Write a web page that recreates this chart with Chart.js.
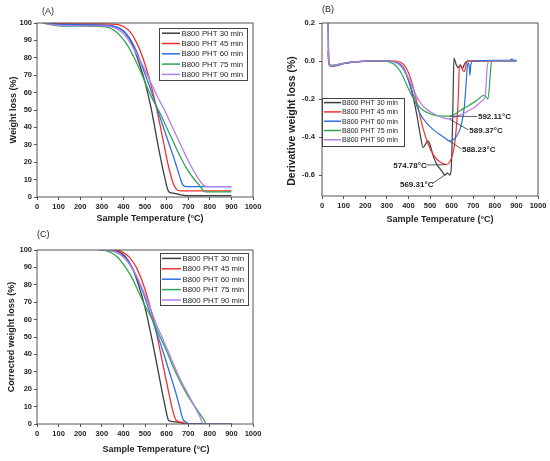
<!DOCTYPE html>
<html>
<head>
<meta charset="utf-8">
<title>B800 PHT TGA curves</title>
<script src="https://cdn.jsdelivr.net/npm/chart.js@4.4.1/dist/chart.umd.min.js"></script>
<style>
  body { margin: 0; background: #fff; }
  #wrap { position: relative; width: 550px; height: 461px; }
  canvas { position: absolute; }
</style>
</head>
<body>
<div id="wrap">
  <canvas id="chartA" width="275" height="230" style="left:0;top:0;width:275px;height:230px"></canvas>
  <canvas id="chartB" width="275" height="230" style="left:275px;top:0;width:275px;height:230px"></canvas>
  <canvas id="chartC" width="275" height="231" style="left:0;top:230px;width:275px;height:231px"></canvas>
</div>
<script>
const seriesNames = ['B800 PHT 30 min', 'B800 PHT 45 min', 'B800 PHT 60 min', 'B800 PHT 75 min', 'B800 PHT 90 min'];
const tempTicks = [0, 100, 200, 300, 400, 500, 600, 700, 800, 900, 1000];
const weightTicks = [0, 10, 20, 30, 40, 50, 60, 70, 80, 90, 100];
const derivTicks = [-0.6, -0.4, -0.2, 0.0, 0.2];

// (A) weight loss, [temperature, %]
const weight30 = [[30,100],[60,99.6],[100,99.2],[200,98.9],[300,98.7],[350,98.2],[380,97],[410,94],[440,88],[470,78],[500,66],[530,50],[560,30],[590,12],[610,3],[630,2.2],[660,1.4],[690,0.8],[900,0.8]];
const weight45 = [[30,100],[100,99.6],[300,99.5],[370,99.2],[400,98],[430,95],[460,89],[490,80],[520,68],[550,53],[580,35],[610,17],[630,8],[645,4.5],[665,3.5],[900,3.5]];
const weight60 = [[30,100],[100,99.2],[300,98.8],[360,98],[400,95.5],[430,91],[460,84],[490,74],[520,64],[550,53],[580,42],[610,31],[640,20],[660,12],[675,7],[690,6],[900,6]];
const weight75 = [[30,100],[100,98.4],[300,98],[330,97.5],[360,95.5],[390,92],[420,87],[450,80],[480,72],[510,63],[540,55],[570,48],[600,40],[630,32],[660,24],[690,17],[720,11.5],[750,7],[780,3],[900,3]];
const weight90 = [[30,100],[100,98.6],[300,98.3],[350,97.7],[380,96],[410,92.5],[440,87],[470,80],[500,73],[530,65],[560,57],[590,50],[620,42],[650,34],[680,26],[710,18.5],[740,12],[765,7.5],[785,6],[900,6]];

// (B) derivative weight loss, [temperature, %/°C]
const deriv30 = [[28,0.05],[31,-0.01],[40,-0.027],[60,-0.026],[80,-0.02],[100,-0.014],[130,-0.008],[170,-0.004],[220,-0.001],[300,0],[330,-0.003],[360,-0.015],[380,-0.04],[400,-0.1],[420,-0.18],[440,-0.29],[455,-0.39],[468,-0.455],[478,-0.44],[490,-0.42],[500,-0.44],[515,-0.5],[530,-0.54],[545,-0.565],[558,-0.585],[569,-0.6],[580,-0.59],[592,-0.6],[598,-0.57],[603,-0.4],[607,-0.18],[611,0.015],[616,0],[622,-0.02],[630,-0.035],[640,-0.02],[650,-0.04],[660,-0.015],[672,0],[900,0]];
const deriv45 = [[30,0.08],[33,-0.01],[40,-0.026],[60,-0.025],[80,-0.02],[100,-0.013],[130,-0.007],[170,-0.003],[220,0],[340,0],[360,-0.005],[380,-0.02],[400,-0.06],[420,-0.13],[440,-0.22],[460,-0.32],[480,-0.4],[500,-0.46],[520,-0.5],[545,-0.53],[575,-0.545],[592,-0.53],[605,-0.49],[615,-0.43],[622,-0.35],[630,-0.22],[636,-0.03],[645,-0.025],[652,-0.05],[660,-0.055],[667,-0.02],[675,0],[900,0]];
const deriv60 = [[28,0.2],[31,-0.01],[40,-0.025],[60,-0.024],[80,-0.019],[100,-0.013],[130,-0.007],[170,-0.003],[220,0],[310,0],[340,-0.008],[360,-0.02],[380,-0.05],[400,-0.1],[420,-0.17],[440,-0.24],[460,-0.29],[480,-0.32],[500,-0.345],[525,-0.37],[550,-0.39],[570,-0.405],[588,-0.42],[605,-0.415],[620,-0.4],[635,-0.37],[648,-0.32],[658,-0.25],[666,-0.14],[672,-0.04],[677,-0.01],[682,-0.03],[685,-0.075],[689,-0.02],[698,0],[870,0.004],[880,0.012],[886,-0.002],[892,0.006],[900,0]];
const deriv75 = [[28,0.2],[31,-0.01],[40,-0.022],[60,-0.02],[80,-0.016],[100,-0.011],[130,-0.006],[170,-0.003],[220,0],[290,0],[310,-0.005],[330,-0.015],[350,-0.035],[370,-0.07],[390,-0.12],[410,-0.17],[430,-0.21],[450,-0.24],[470,-0.26],[495,-0.275],[520,-0.285],[550,-0.29],[592,-0.29],[615,-0.28],[640,-0.26],[670,-0.24],[700,-0.22],[730,-0.195],[748,-0.18],[760,-0.19],[768,-0.2],[774,-0.15],[779,-0.07],[784,-0.01],[790,0],[900,0]];
const deriv90 = [[28,0.2],[31,-0.01],[40,-0.024],[60,-0.023],[80,-0.018],[100,-0.012],[130,-0.006],[170,-0.003],[220,0],[310,0],[340,-0.006],[360,-0.02],[380,-0.045],[400,-0.09],[420,-0.14],[440,-0.19],[460,-0.225],[480,-0.25],[505,-0.27],[530,-0.285],[555,-0.297],[575,-0.303],[589,-0.305],[605,-0.3],[625,-0.29],[650,-0.28],[680,-0.26],[710,-0.24],[735,-0.215],[750,-0.2],[756,-0.185],[760,-0.12],[764,-0.04],[770,-0.005],[775,0],[900,0]];

// peak temperatures marked in (B), same order as the series
const peakTemps = [569.31, 574.78, 588.23, 589.37, 592.11];
const peakRates = [-0.6, -0.545, -0.42, -0.305, -0.29];

// (C) corrected weight loss, [temperature, %]
const corr30 = [[290,100],[350,99.8],[380,99],[410,96],[440,90],[470,80],[500,67],[530,50],[560,31],[590,12],[610,2],[630,1.4],[660,0.8],[700,0],[900,0]];
const corr45 = [[290,100],[370,99.9],[400,98.5],[430,95.5],[460,90],[490,81],[520,69],[550,54],[580,36],[610,18],[630,7],[645,2],[670,1],[700,0],[900,0]];
const corr60 = [[290,100],[350,99.5],[400,96.5],[430,92],[460,85],[490,76],[520,65],[550,54],[580,43],[610,31],[640,19],[660,10],[675,3],[690,1],[710,0],[900,0]];
const corr75 = [[290,100],[320,99.6],[350,98],[380,95],[410,90],[440,84],[470,76],[500,68],[540,58.5],[570,50],[600,42],[630,33],[660,25],[690,18],[720,12],[750,6.5],[770,3],[785,0],[900,0]];
const corr90 = [[290,100],[340,99.6],[370,98.5],[400,96],[430,91.5],[460,85],[490,77],[520,68],[550,58],[580,49.5],[610,41],[640,32],[670,24],[700,17],[730,10],[755,4],[770,0],[900,0]];

const colors = ['#3d3d3d', '#f42f2f', '#2a6ee6', '#2fa550', '#b27de8'];
const FONT = "'Liberation Sans', Arial, sans-serif";
const INK = '#1f1f1f';

function datasets(list, width) {
    return list.map((data, i) => ({
        label: seriesNames[i],
        data: data,
        borderColor: colors[i],
        backgroundColor: colors[i],
        borderWidth: width,
        pointRadius: 0,
        cubicInterpolationMode: 'monotone',
        order: list.length - 1 - i,
    }));
}

const panelDecor = {
    id: 'panelDecor',
    afterDraw(chart, args, o) {
        const ctx = chart.ctx;
        const a = chart.chartArea;
        const xs = chart.scales.x, ys = chart.scales.y;
        ctx.save();

        // peak notes with leader lines (panel B)
        (o.notes || []).forEach((n, i) => {
            ctx.strokeStyle = '#333';
            ctx.lineWidth = 0.8;
            ctx.beginPath();
            ctx.moveTo(xs.getPixelForValue(n.lx), ys.getPixelForValue(n.ly));
            ctx.lineTo(xs.getPixelForValue(peakTemps[i]), ys.getPixelForValue(peakRates[i]));
            ctx.stroke();
            ctx.fillStyle = INK;
            ctx.font = 'bold 8px ' + FONT;
            ctx.textAlign = 'left';
            ctx.textBaseline = 'middle';
            ctx.fillText(peakTemps[i].toFixed(2) + '°C', xs.getPixelForValue(n.tx), ys.getPixelForValue(n.ty));
        });

        // frame
        ctx.strokeStyle = '#555';
        ctx.lineWidth = 1;
        ctx.strokeRect(a.left, a.top, a.right - a.left, a.bottom - a.top);

        // legend box
        const L = o.legend;
        ctx.fillStyle = '#fff';
        ctx.fillRect(L.x, L.y, L.w, L.h);
        ctx.strokeStyle = '#444';
        ctx.strokeRect(L.x + 0.5, L.y + 0.5, L.w, L.h);
        chart.data.datasets.forEach((ds, i) => {
            const y = L.first + i * L.step;
            ctx.strokeStyle = ds.borderColor;
            ctx.lineWidth = 1.5;
            ctx.beginPath();
            ctx.moveTo(L.x1, y);
            ctx.lineTo(L.x2, y);
            ctx.stroke();
            ctx.fillStyle = INK;
            ctx.font = L.font + 'px ' + FONT;
            ctx.textAlign = 'left';
            ctx.textBaseline = 'middle';
            ctx.fillText(ds.label, L.tx, y + 0.5);
        });

        // panel letter and axis titles
        ctx.fillStyle = INK;
        ctx.font = '9px ' + FONT;
        ctx.textAlign = 'left';
        ctx.textBaseline = 'middle';
        ctx.fillText(o.label, o.labelX, o.labelY);

        ctx.font = 'bold 9px ' + FONT;
        ctx.textAlign = 'center';
        ctx.fillText(o.xTitle, o.xTitleX, o.xTitleY);

        ctx.font = 'bold ' + o.yTitleSize + 'px ' + FONT;
        ctx.translate(o.yTitleX, o.yTitleY);
        ctx.rotate(-Math.PI / 2);
        ctx.fillText(o.yTitle, 0, 0);
        ctx.restore();
    }
};

function scales(yMin, yMax, yTicks, yWidth, xHeight, yPad, yFmt) {
    const tickFont = {family: FONT, size: 7.5, weight: 'bold'};
    return {
        x: {
            type: 'linear', min: 0, max: 1000,
            afterBuildTicks: s => { s.ticks = tempTicks.map(v => ({value: v})); },
            afterFit: s => { s.height = xHeight; },
            grid: {drawOnChartArea: false, drawTicks: true, tickLength: 3, color: '#555'},
            border: {display: false},
            ticks: {font: tickFont, color: INK, padding: 2, maxRotation: 0, autoSkip: false, callback: v => String(v)},
        },
        y: {
            type: 'linear', min: yMin, max: yMax,
            afterBuildTicks: s => { s.ticks = yTicks.map(v => ({value: v})); },
            afterFit: s => { s.width = yWidth; },
            grid: {drawOnChartArea: false, drawTicks: true, tickLength: 3, color: '#555'},
            border: {display: false},
            ticks: {font: tickFont, color: INK, padding: yPad, autoSkip: false, callback: yFmt},
        },
    };
}

new Chart(document.getElementById('chartA'), {
    type: 'line',
    data: {datasets: datasets([weight30, weight45, weight60, weight75, weight90], 1.3)},
    options: {
        responsive: false, animation: false,
        layout: {padding: {top: 23, right: 22, left: 0, bottom: 0}},
        scales: scales(0, 100, weightTicks, 37, 33, 2, v => String(v)),
        plugins: {
            legend: {display: false}, tooltip: {enabled: false},
            panelDecor: {
                label: '(A)', labelX: 42, labelY: 12,
                xTitle: 'Sample Temperature (°C)', xTitleX: 150, xTitleY: 219,
                yTitle: 'Weight loss (%)', yTitleX: 14, yTitleY: 110, yTitleSize: 9,
                legend: {x: 159, y: 28, w: 88, h: 52, first: 33.2, step: 10.3, x1: 162, x2: 180, tx: 181.5, font: 7.8},
            },
        },
    },
    plugins: [panelDecor],
});

new Chart(document.getElementById('chartB'), {
    type: 'line',
    data: {datasets: datasets([deriv30, deriv45, deriv60, deriv75, deriv90], 1.2)},
    options: {
        responsive: false, animation: false,
        layout: {padding: {top: 23, right: 12, left: 0, bottom: 0}},
        scales: scales(-0.71, 0.2, derivTicks, 47, 34, 4, v => v.toFixed(1)),
        plugins: {
            legend: {display: false}, tooltip: {enabled: false},
            panelDecor: {
                label: '(B)', labelX: 47, labelY: 10,
                xTitle: 'Sample Temperature (°C)', xTitleX: 165, xTitleY: 220,
                yTitle: 'Derivative weight loss (%)', yTitleX: 17, yTitleY: 121, yTitleSize: 10.5,
                legend: {x: 47, y: 98, w: 82, h: 48, first: 102.6, step: 9.3, x1: 49, x2: 66, tx: 67, font: 7.1},
                notes: [
                    {tx: 361, ty: -0.652, lx: 512, ly: -0.643},
                    {tx: 330, ty: -0.55, lx: 484, ly: -0.547},
                    {tx: 648, ty: -0.468, lx: 645, ly: -0.462},
                    {tx: 682, ty: -0.369, lx: 677, ly: -0.362},
                    {tx: 722, ty: -0.292, lx: 718, ly: -0.292},
                ],
            },
        },
    },
    plugins: [panelDecor],
});

new Chart(document.getElementById('chartC'), {
    type: 'line',
    data: {datasets: datasets([corr30, corr45, corr60, corr75, corr90], 1.3)},
    options: {
        responsive: false, animation: false,
        layout: {padding: {top: 20, right: 22, left: 0, bottom: 0}},
        scales: scales(0, 100, weightTicks, 37, 37, 2, v => String(v)),
        plugins: {
            legend: {display: false}, tooltip: {enabled: false},
            panelDecor: {
                label: '(C)', labelX: 37, labelY: 5,
                xTitle: 'Sample Temperature (°C)', xTitleX: 156, xTitleY: 220,
                yTitle: 'Corrected weight loss (%)', yTitleX: 12, yTitleY: 107, yTitleSize: 9,
                legend: {x: 160, y: 23, w: 88, h: 52, first: 28.4, step: 10.4, x1: 162, x2: 181, tx: 182.5, font: 7.8},
            },
        },
    },
    plugins: [panelDecor],
});
</script>
</body>
</html>
